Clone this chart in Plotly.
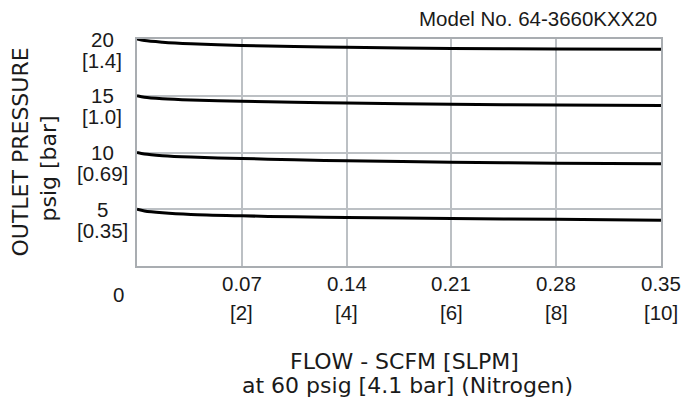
import plotly.graph_objects as go

# Flow (SCFM) sample points along each curve
flow = [0.0, 0.005, 0.017, 0.036, 0.07, 0.105, 0.14, 0.21, 0.28, 0.35]
# Outlet pressure curves (psig) for set points 20, 15, 10, 5
p20 = [20.0, 19.86, 19.72, 19.58, 19.42, 19.34, 19.27, 19.17, 19.12, 19.09]
p15 = [15.0, 14.86, 14.73, 14.62, 14.51, 14.43, 14.36, 14.25, 14.19, 14.15]
p10 = [10.0, 9.86, 9.72, 9.60, 9.47, 9.36, 9.27, 9.14, 9.06, 9.01]
p5 = [5.0, 4.85, 4.69, 4.54, 4.42, 4.33, 4.27, 4.18, 4.11, 4.04]

x_ticks = [0.07, 0.14, 0.21, 0.28, 0.35]
x_tick_top = ["0.07", "0.14", "0.21", "0.28", "0.35"]
x_tick_bottom = ["[2]", "[4]", "[6]", "[8]", "[10]"]

y_ticks = [20, 15, 10, 5]
y_tick_top = ["20", "15", "10", "5"]
y_tick_bottom = ["[1.4]", "[1.0]", "[0.69]", "[0.35]"]

fig = go.Figure()
for ys in [p20, p15, p10, p5]:
    fig.add_trace(go.Scatter(x=flow, y=ys, mode="lines",
                             line=dict(color="#000000", width=3, shape="spline", smoothing=0.8),
                             showlegend=False, hoverinfo="skip"))

tick_font = dict(family="Liberation Sans, Arial, sans-serif", size=20.5, color="#1a1a1a")
title_font = dict(family="DejaVu Sans, Verdana, sans-serif", size=22, color="#1a1a1a")

ann = []
for xv, t1, t2 in zip(x_ticks, x_tick_top, x_tick_bottom):
    ann.append(dict(x=xv, y=0, xref="x", yref="y", text=t1, showarrow=False,
                    font=tick_font, xanchor="center", yanchor="middle", yshift=-17))
    ann.append(dict(x=xv, y=0, xref="x", yref="y", text=t2, showarrow=False,
                    font=tick_font, xanchor="center", yanchor="middle", yshift=-46))
for yv, t1, t2 in zip(y_ticks, y_tick_top, y_tick_bottom):
    ann.append(dict(x=0, y=yv, xref="paper", yref="y", text=t1, showarrow=False,
                    font=tick_font, xanchor="center", yanchor="middle", xshift=-35, yshift=0))
    ann.append(dict(x=0, y=yv, xref="paper", yref="y", text=t2, showarrow=False,
                    font=tick_font, xanchor="center", yanchor="middle", xshift=-35, yshift=-21))
# origin label
ann.append(dict(x=0, y=0, xref="x", yref="y", text="0", showarrow=False,
                font=tick_font, xanchor="center", yanchor="middle", xshift=-19, yshift=-28))
# axis titles
ann.append(dict(x=0, y=0.5, xref="paper", yref="paper", text="OUTLET PRESSURE", showarrow=False,
                font=title_font, textangle=-90, xanchor="center", yanchor="middle",
                xshift=-117, yshift=0))
ann.append(dict(x=0, y=0.5, xref="paper", yref="paper", text="psig [bar]", showarrow=False,
                font=title_font, textangle=-90, xanchor="center", yanchor="middle",
                xshift=-89, yshift=-16))
ann.append(dict(x=0.5, y=0, xref="paper", yref="paper", text="FLOW - SCFM [SLPM]", showarrow=False,
                font=title_font, xanchor="center", yanchor="middle", xshift=5, yshift=-95))
ann.append(dict(x=0.5, y=0, xref="paper", yref="paper", text="at 60 psig [4.1 bar] (Nitrogen)",
                showarrow=False, font=title_font, xanchor="center", yanchor="middle",
                xshift=8, yshift=-119))
ann.append(dict(x=1, y=1, xref="paper", yref="paper", text="Model No. 64-3660KXX20", showarrow=False,
                font=dict(family="Liberation Sans, Arial, sans-serif", size=20.5, color="#1a1a1a"),
                xanchor="right", yanchor="middle", xshift=-2, yshift=21))

fig.update_layout(
    width=694, height=400,
    margin=dict(l=137, r=33, t=39, b=134),
    paper_bgcolor="white", plot_bgcolor="white",
    annotations=ann,
    xaxis=dict(range=[0, 0.35], tickvals=x_ticks, showticklabels=False, ticks="",
               showgrid=True, gridcolor="#bcc0c4", gridwidth=1.5,
               showline=True, linecolor="#a9adb1", linewidth=2, mirror=True, zeroline=False),
    yaxis=dict(range=[0, 20], tickvals=y_ticks, showticklabels=False, ticks="",
               showgrid=True, gridcolor="#bcc0c4", gridwidth=1.5,
               showline=True, linecolor="#a9adb1", linewidth=2, mirror=True, zeroline=False),
)

fig.write_html("out.html", config={"displayModeBar": False},
               post_script="document.body.style.margin='0';")
